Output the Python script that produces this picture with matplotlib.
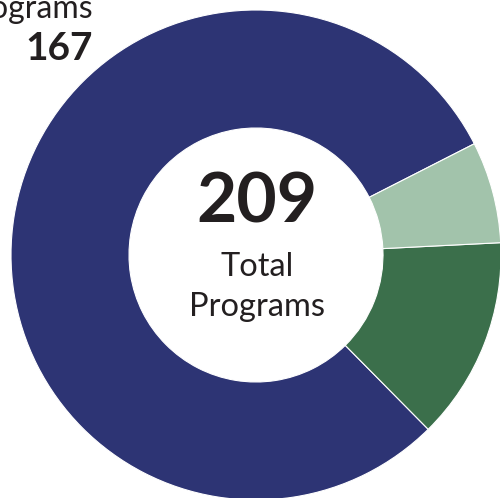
import matplotlib.pyplot as plt

categories = ["Programs", "Category B", "Category C"]
values = [167, 28, 14]
total = 209
colors = ["#2d3474", "#3b6f4b", "#a2c3ab"]

W, H = 500, 498
fig = plt.figure(figsize=(W / 100, H / 100), dpi=100)
ax = fig.add_axes([0, 0, 1, 1])

cx, cy = 256, H - 255
R, r = 245, 127
ax.pie(values, colors=colors, startangle=27, counterclock=True,
       center=(cx, cy), radius=R, frame=True,
       wedgeprops=dict(width=R - r, edgecolor="white", linewidth=0.8))
ax.set_xlim(0, W)
ax.set_ylim(0, H)
ax.set_aspect("equal")
ax.axis("off")

txt = "#231f20"
ax.text(cx + 1, H - 203, str(total), ha="center", va="center",
        fontsize=50, fontweight="bold", family="Lato", color=txt)
ax.text(cx + 1, H - 267, "Total", ha="center", va="center",
        fontsize=23.5, family="Lato", color=txt)
ax.text(cx + 1, H - 307, "Programs", ha="center", va="center",
        fontsize=23.5, family="Lato", color=txt)

ax.text(93, H - 18, categories[0], ha="right", va="baseline",
        fontsize=23, family="Lato", color=txt)
ax.text(93, H - 48, str(values[0]), ha="right", va="center",
        fontsize=28, fontweight="bold", family="Lato", color=txt)

fig.savefig("out.png", dpi=100)
